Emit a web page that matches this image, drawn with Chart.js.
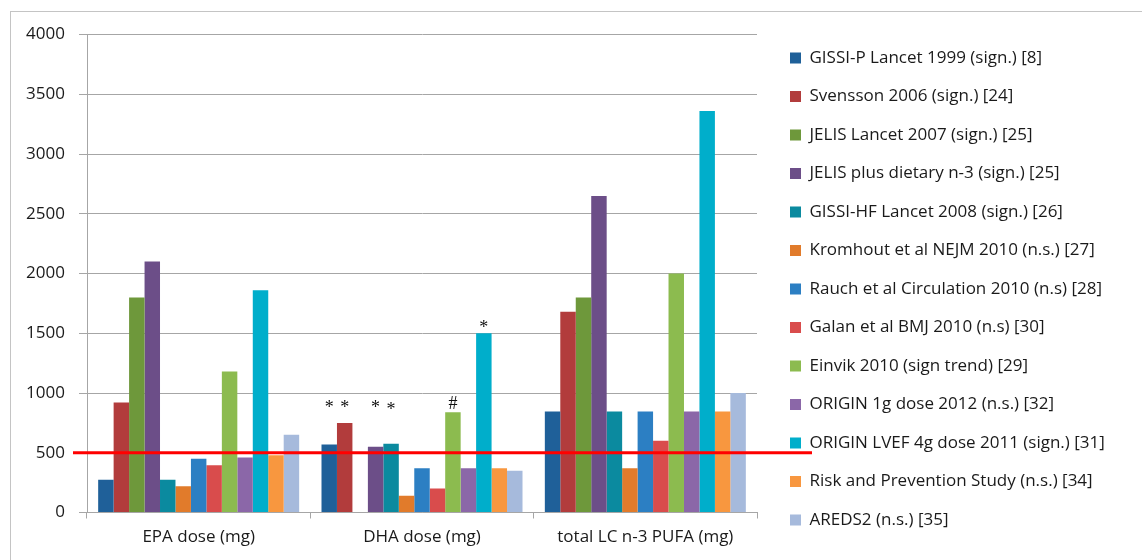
<!DOCTYPE html>
<html>
<head>
<meta charset="utf-8">
<script src="https://cdn.jsdelivr.net/npm/chart.js@4"></script>
<style>
  body { margin: 0; background: #fff; }
  #wrap { position: relative; width: 1142px; height: 560px; }
</style>
</head>
<body>
<div id="wrap"><canvas id="dose-chart" width="1142" height="560"></canvas></div>
<script>
const categories = ["EPA dose (mg)", "DHA dose (mg)", "total LC n-3 PUFA (mg)"];
const yTicks = [0, 500, 1000, 1500, 2000, 2500, 3000, 3500, 4000];
const studies = [
  "GISSI-P Lancet 1999 (sign.) [8]",
  "Svensson 2006 (sign.) [24]",
  "JELIS Lancet 2007 (sign.) [25]",
  "JELIS plus dietary n-3 (sign.) [25]",
  "GISSI-HF Lancet 2008 (sign.) [26]",
  "Kromhout et al NEJM 2010 (n.s.) [27]",
  "Rauch et al Circulation 2010 (n.s) [28]",
  "Galan et al BMJ 2010 (n.s) [30]",
  "Einvik 2010 (sign trend) [29]",
  "ORIGIN 1g dose 2012 (n.s.) [32]",
  "ORIGIN LVEF 4g dose 2011 (sign.) [31]",
  "Risk and Prevention Study (n.s.) [34]",
  "AREDS2 (n.s.) [35]",
];
const epaDose = [275, 920, 1800, 2100, 275, 220, 450, 395, 1180, 460, 1860, 480, 650];
const dhaDose = [570, 750, 0, 550, 575, 140, 370, 200, 840, 370, 1500, 370, 350];
const totalDose = [845, 1680, 1800, 2650, 845, 370, 845, 600, 2000, 845, 3360, 845, 1000];
const colors = [
  "#1f6099", "#b23c3c", "#6e983b", "#6c4e88", "#0b8a9f", "#e17b2b", "#2c7fc3",
  "#d94c4c", "#8cbb4f", "#8b67a8", "#00aecb", "#f8973f", "#a6badc",
];
const threshold = 500;
// DHA marks: study index, symbol, value level where the symbol sits
const dhaMarks = [
  [0, "*", 900], [1, "*", 900], [3, "*", 900], [4, "*", 880], [8, "#", 910], [10, "*", 1570],
];

const font = "'Open Sans', sans-serif";
const textColor = "#1a1a1a";

// legend should start at x=768.5 -> pad the right side when text is narrower
const legendTarget = 1142 - 768.5;
const m = document.createElement("canvas").getContext("2d");
m.font = "17px 'Open Sans'";
const widest = Math.max(...studies.map((s) => m.measureText(s).width));
const legendNatural = 21.5 + 11 + 8.5 + widest + 10;
const padRight = Math.max(0, legendTarget - legendNatural);

const frame = {
  id: "frame",
  beforeDraw(chart) {
    const ctx = chart.ctx;
    ctx.save();
    ctx.strokeStyle = "#c4c4c4";
    ctx.lineWidth = 1;
    ctx.strokeRect(10.5, 11.5, 1140, 560);
    ctx.restore();
  },
};

const refLine = {
  id: "refLine",
  afterDatasetsDraw(chart) {
    const ctx = chart.ctx;
    const y = chart.scales.y.getPixelForValue(threshold);
    ctx.save();
    ctx.strokeStyle = "#ff0000";
    ctx.lineWidth = 3;
    ctx.beginPath();
    ctx.moveTo(73, y);
    ctx.lineTo(812, y);
    ctx.stroke();

    ctx.fillStyle = "#111";
    ctx.font = "18px 'Liberation Serif', serif";
    ctx.textAlign = "center";
    ctx.textBaseline = "middle";
    dhaMarks.forEach(([i, sym, v]) => {
      const bar = chart.getDatasetMeta(i).data[1];
      ctx.fillText(sym, bar.x, chart.scales.y.getPixelForValue(v) + (sym === "*" ? 3 : 0));
    });
    ctx.restore();
  },
};

const ctx = document.getElementById("dose-chart");
new Chart(ctx, {
  type: "bar",
  data: {
    labels: categories,
    datasets: studies.map((label, i) => ({
      label,
      data: [epaDose[i], dhaDose[i], totalDose[i]],
      backgroundColor: colors[i],
      borderWidth: 0,
      categoryPercentage: 0.9,
      barPercentage: 1,
    })),
  },
  options: {
    responsive: false,
    animation: false,
    layout: { padding: { top: 28, left: 0, right: padRight, bottom: 0 } },
    plugins: {
      tooltip: { enabled: false },
      legend: {
        position: "right",
        align: "start",
        maxWidth: legendTarget,
        labels: {
          boxWidth: 11,
          boxHeight: 11,
          padding: 21.5,
          color: textColor,
          font: { family: font, size: 17 },
        },
      },
    },
    scales: {
      x: {
        grid: { offset: true, drawOnChartArea: false, drawTicks: true, tickLength: 6, color: "#a6a6a6" },
        border: { color: "#a6a6a6" },
        ticks: { color: textColor, font: { family: font, size: 17 }, padding: 8 },
        afterFit(scale) { scale.height = 47.5; },
      },
      xTop: {
        position: "top",
        display: true,
        grid: { display: false },
        border: { display: false },
        ticks: { display: false },
        afterFit(scale) { scale.height = 6.6; },
      },
      y: {
        min: 0,
        max: 4000,
        afterBuildTicks(scale) { scale.ticks = yTicks.map((v) => ({ value: v })); },
        grid: { color: "#a6a6a6", tickLength: 8 },
        border: { color: "#a6a6a6" },
        ticks: {
          color: textColor,
          font: { family: font, size: 17 },
          padding: 14,
          callback: (v) => String(v),
        },
        afterFit(scale) { scale.width = 87; },
      },
      spacer: {
        position: "right",
        display: true,
        grid: { display: false },
        border: { display: false },
        ticks: { display: false },
        afterFit(scale) { scale.width = 11.5; },
      },
    },
  },
  plugins: [frame, refLine],
});
</script>
</body>
</html>
